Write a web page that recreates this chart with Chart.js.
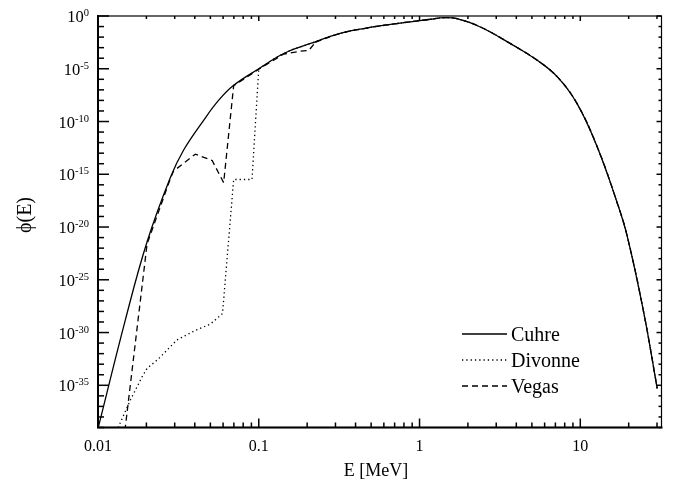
<!DOCTYPE html>
<html>
<head>
<meta charset="utf-8">
<script src="https://cdn.jsdelivr.net/npm/chart.js@4.4.1/dist/chart.umd.min.js"></script>
<style>
  html, body { margin: 0; padding: 0; background: #fff; }
  #wrap { width: 675px; height: 489px; }
</style>
</head>
<body>
<div id="wrap"><canvas id="chart" width="675" height="489"></canvas></div>
<script>
// energy in MeV and flux phi(E)
const cuhreE    = [0.01, 0.0148, 0.0202, 0.0282, 0.0341, 0.0454, 0.0562, 0.0698, 0.1, 0.143, 0.21, 0.32, 0.45, 0.72, 1.17, 1.42, 1.71, 2.39, 3.68, 5.4, 7.2, 9.55, 12.7, 17.0, 19.6, 24.8, 30.1];
const cuhreFlux = [7.9e-40, 1.6e-29, 4e-22, 5e-16, 2e-13, 1.3e-10, 1e-8, 2.7e-7, 1e-5, 2.8e-4, 2.5e-3, 2.2e-2, 6.5e-2, 0.19, 0.49, 0.69, 0.56, 0.091, 2.4e-3, 6.3e-5, 1.7e-6, 5e-9, 4.5e-13, 1.8e-18, 1.3e-21, 8.2e-29, 5e-36];

const divonneE    = [0.0130, 0.0159, 0.0188, 0.0202, 0.0238, 0.031, 0.0403, 0.05, 0.0595, 0.0698, 0.0908, 0.1, 0.143, 0.21, 0.32, 0.45, 0.72, 1.17, 1.42, 1.71, 2.39, 3.68, 5.4, 7.2, 9.55, 12.7, 17.0, 19.6, 24.8, 30.1];
const divonneFlux = [4e-40, 4e-37, 6.3e-35, 4e-34, 3.2e-33, 2e-31, 1.6e-30, 6.3e-30, 6.3e-29, 3.2e-16, 3.2e-16, 1e-5, 2.8e-4, 2.5e-3, 2.2e-2, 6.5e-2, 0.19, 0.49, 0.69, 0.56, 0.091, 2.4e-3, 6.3e-5, 1.7e-6, 5e-9, 4.5e-13, 1.8e-18, 1.3e-21, 8.2e-29, 5e-36];

const vegasE    = [0.0147, 0.0202, 0.0282, 0.0295, 0.0403, 0.0513, 0.0605, 0.0698, 0.1, 0.143, 0.18, 0.205, 0.225, 0.32, 0.45, 0.72, 1.17, 1.42, 1.71, 2.39, 3.68, 5.4, 7.2, 9.55, 12.7, 17.0, 19.6, 24.8, 30.1];
const vegasFlux = [5e-40, 2.5e-22, 4e-16, 2e-15, 8e-14, 2e-14, 1.6e-16, 2.5e-7, 9e-6, 2.5e-4, 4.5e-4, 5.6e-4, 3.2e-3, 2.2e-2, 6.5e-2, 0.19, 0.49, 0.69, 0.56, 0.091, 2.4e-3, 6.3e-5, 1.7e-6, 5e-9, 4.5e-13, 1.8e-18, 1.3e-21, 8.2e-29, 5e-36];

// axis ticks
const xMajorTicks = [0.01, 0.1, 1, 10];
const xTickLabels = ['0.01', '0.1', '1', '10'];
const xMinorTicks = [0.02, 0.03, 0.04, 0.05, 0.06, 0.07, 0.08, 0.09, 0.2, 0.3, 0.4, 0.5, 0.6, 0.7, 0.8, 0.9, 2, 3, 4, 5, 6, 7, 8, 9, 20, 30];
const yMajorExp = [0, -5, -10, -15, -20, -25, -30, -35];
const yTickLabels = ['0', '-5', '-10', '-15', '-20', '-25', '-30', '-35'];

const seriesNames = ['Cuhre', 'Divonne', 'Vegas'];
const seriesDash = [[], [1.3, 3], [6, 4]];

const SERIF = '"Liberation Serif", "Times New Roman", serif';

// the part below 'split' has sharp steps, the part above follows the smooth curve
const toPoints = (xs, ys) => xs.map((x, i) => ({x: x, y: ys[i]}));
const lowPart = (xs, ys, split) => toPoints(xs, ys).filter(p => p.x <= split);
const highPart = (xs, ys, split) => toPoints(xs, ys).filter(p => p.x >= split);

const framePlugin = {
    id: 'frame',
    afterDatasetsDraw(chart) {
        const {ctx, chartArea: a, scales: {x, y}} = chart;
        ctx.save();
        ctx.strokeStyle = '#000';
        ctx.fillStyle = '#000';

        const line = (x1, y1, x2, y2) => {
            ctx.beginPath(); ctx.moveTo(x1, y1); ctx.lineTo(x2, y2); ctx.stroke();
        };

        // box
        ctx.lineWidth = 1.2;
        ctx.strokeRect(a.left, a.top, a.right - a.left, a.bottom - a.top);
        ctx.lineWidth = 2;
        ctx.beginPath();
        ctx.moveTo(a.left, a.top - 1);
        ctx.lineTo(a.left, a.bottom);
        ctx.lineTo(a.right + 1, a.bottom);
        ctx.stroke();

        // x ticks (inside)
        ctx.lineWidth = 1.5;
        xMinorTicks.forEach(v => {
            const px = x.getPixelForValue(v);
            line(px, a.bottom, px, a.bottom - 5);
            line(px, a.top, px, a.top + 3);
        });
        xMajorTicks.forEach(v => {
            const px = x.getPixelForValue(v);
            line(px, a.bottom, px, a.bottom - 9);
            line(px, a.top, px, a.top + 5);
        });

        // y ticks, one per decade
        for (let e = 0; e >= -39; e--) {
            const py = y.getPixelForValue(Math.pow(10, e));
            const major = e % 5 === 0;
            line(a.left, py, a.left + (major ? 11 : 6), py);
            line(a.right, py, a.right - (major ? 5 : 3), py);
        }

        // x tick labels
        ctx.font = '16px ' + SERIF;
        ctx.textAlign = 'center';
        ctx.textBaseline = 'alphabetic';
        xMajorTicks.forEach((v, i) => {
            ctx.fillText(xTickLabels[i], x.getPixelForValue(v), 451);
        });

        // y tick labels: 10 with superscript exponent
        ctx.textAlign = 'left';
        yMajorExp.forEach((e, i) => {
            const py = y.getPixelForValue(Math.pow(10, e));
            ctx.font = '10.5px ' + SERIF;
            const supW = ctx.measureText(yTickLabels[i]).width;
            ctx.font = '16.5px ' + SERIF;
            const baseW = ctx.measureText('10').width;
            const right = 89;
            ctx.fillText('10', right - supW - baseW, py + 6);
            ctx.font = '10.5px ' + SERIF;
            ctx.fillText(yTickLabels[i], right - supW, py);
        });

        // axis titles
        ctx.font = '18px ' + SERIF;
        ctx.textAlign = 'center';
        ctx.fillText('E [MeV]', 376, 476);

        ctx.save();
        ctx.translate(31, 215);
        ctx.rotate(-Math.PI / 2);
        ctx.font = '20px ' + SERIF;
        ctx.fillText('\u03D5(E)', 0, 0);
        ctx.restore();

        // legend inside the plot
        ctx.font = '20px ' + SERIF;
        ctx.textAlign = 'left';
        seriesNames.forEach((name, i) => {
            const ly = 334 + i * 26;
            ctx.save();
            ctx.lineWidth = 1.3;
            ctx.setLineDash(seriesDash[i]);
            line(462, ly, 507, ly);
            ctx.restore();
            ctx.fillText(name, 511, ly + 7);
        });

        ctx.restore();
    }
};

const lineStyle = (i, tension) => ({
    borderColor: '#000',
    borderWidth: 1.3,
    borderDash: seriesDash[i],
    pointRadius: 0,
    tension: tension
});

const ctx = document.getElementById('chart').getContext('2d');
const chart = new Chart(ctx, {
    type: 'line',
    data: {
        datasets: [
            Object.assign({label: seriesNames[0], data: toPoints(cuhreE, cuhreFlux)}, lineStyle(0, 0.4)),
            Object.assign({label: seriesNames[1], data: lowPart(divonneE, divonneFlux, 0.1)}, lineStyle(1, 0)),
            Object.assign({label: seriesNames[1], data: highPart(divonneE, divonneFlux, 0.1)}, lineStyle(1, 0.4)),
            Object.assign({label: seriesNames[2], data: lowPart(vegasE, vegasFlux, 0.225)}, lineStyle(2, 0)),
            Object.assign({label: seriesNames[2], data: highPart(vegasE, vegasFlux, 0.225)}, lineStyle(2, 0.4))
        ]
    },
    options: {
        responsive: false,
        animation: false,
        events: [],
        layout: {
            padding: { left: 98, right: 13.5, top: 16, bottom: 61.5 }
        },
        plugins: {
            legend: { display: false },
            tooltip: { enabled: false }
        },
        scales: {
            x: {
                type: 'logarithmic',
                min: 0.01,
                max: 32,
                display: false
            },
            y: {
                type: 'logarithmic',
                min: 1e-39,
                max: 1,
                display: false
            }
        }
    },
    plugins: [framePlugin]
});
</script>
</body>
</html>
